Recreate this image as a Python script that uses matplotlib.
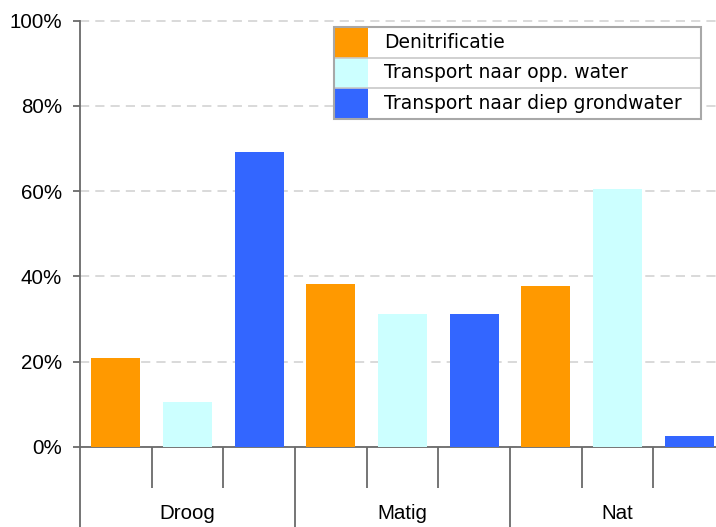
import matplotlib
matplotlib.use("Agg")
import matplotlib.pyplot as plt
from matplotlib.patches import Rectangle
from matplotlib.ticker import FuncFormatter, MultipleLocator

# Data (fractions)
categories = ["Droog", "Matig", "Nat"]
series_names = ["Denitrificatie", "Transport naar opp. water",
                "Transport naar diep grondwater"]
series_colors = ["#FF9900", "#CCFFFF", "#3366FF"]
values = {
    "Droog": [0.208, 0.106, 0.692],
    "Matig": [0.382, 0.312, 0.312],
    "Nat":   [0.378, 0.604, 0.026],
}

W, H = 716, 527
fig = plt.figure(figsize=(W / 100, H / 100), dpi=100)
# axes runs a bit past the right edge, as in the original
ax = fig.add_axes([80 / W, 1 - 447 / H, 645 / W, (447 - 19.5) / H])

n_series = len(series_names)
for gi, cat in enumerate(categories):
    for si, v in enumerate(values[cat]):
        x = gi * n_series + si + 0.5
        ax.bar(x, v, width=0.68, color=series_colors[si], zorder=3)

ax.set_xlim(0, len(categories) * n_series)
ax.set_ylim(0, 1.0025)
ax.yaxis.set_major_locator(MultipleLocator(0.2))
ax.yaxis.set_major_formatter(FuncFormatter(lambda v, _: f"{v * 100:.0f}%"))
ax.grid(axis="y", color="#d0d0d0", linestyle=(0, (6, 4)), linewidth=1.1,
        zorder=0)
ax.set_axisbelow(True)

for side in ("top", "right"):
    ax.spines[side].set_visible(False)
for side in ("left", "bottom"):
    ax.spines[side].set_color("#6a6a6a")
    ax.spines[side].set_linewidth(1.3)
ax.spines["left"].set_bounds(0, 1)

# x ticks: long ones at group boundaries, short ones between bars
ax.set_xticks([i * n_series for i in range(len(categories) + 1)])
ax.set_xticks(range(len(categories) * n_series + 1), minor=True)
ax.tick_params(axis="x", which="major", length=62, width=1.3,
               color="#6a6a6a", labelbottom=False)
ax.tick_params(axis="x", which="minor", length=29.5, width=1.3,
               color="#6a6a6a")
ax.tick_params(axis="y", length=5, width=1.3, color="#6a6a6a", pad=8,
               labelsize=14.8)
for lbl in ax.get_yticklabels():
    lbl.set_fontfamily("Liberation Sans")

for gi, cat in enumerate(categories):
    ax.text(gi * n_series + n_series / 2, -0.155, cat, ha="center",
            va="center", fontsize=14.8, family="Liberation Sans",
            transform=ax.get_xaxis_transform(), clip_on=False)

# legend box drawn as a small table
lax = fig.add_axes([334 / W, 1 - 119 / H, 367 / W, 92 / H])
lax.set_xlim(0, 367)
lax.set_ylim(0, len(series_names))
lax.axis("off")
lax.add_patch(Rectangle((0, 0), 367, len(series_names), facecolor="white",
                        edgecolor="none", zorder=0))
for i, (name, col) in enumerate(zip(series_names, series_colors)):
    y = len(series_names) - 1 - i
    lax.add_patch(Rectangle((0, y), 34, 1, facecolor=col, edgecolor="none",
                            zorder=1))
    lax.text(50, y + 0.5, name, va="center", ha="left", fontsize=13.5,
             family="DejaVu Sans")
    if i > 0:
        lax.plot([0, 367], [y + 1, y + 1], color="#c8c8c8", lw=1.2, zorder=2)
lax.add_patch(Rectangle((0, 0), 367, len(series_names), facecolor="none",
                        edgecolor="#a8a8a8", lw=1.5, zorder=3,
                        clip_on=False))

fig.savefig("out.png", dpi=100)
